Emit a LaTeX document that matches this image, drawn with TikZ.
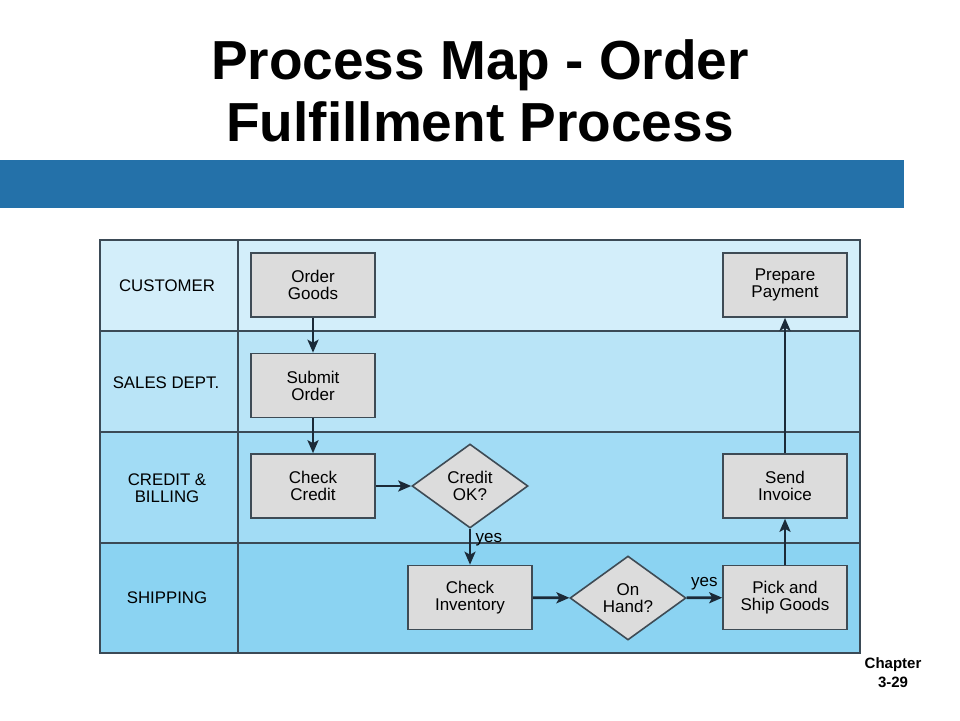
\documentclass[tikz,border=0pt]{standalone}
\usepackage{fontspec}
\setmainfont{Liberation Sans}
\usetikzlibrary{shapes.geometric,arrows.meta}
\definecolor{barblue}{HTML}{2471A9}
\definecolor{laneA}{HTML}{D3EEFA}
\definecolor{laneB}{HTML}{B9E4F7}
\definecolor{laneC}{HTML}{A2DCF5}
\definecolor{laneD}{HTML}{8BD3F2}
\definecolor{boxfill}{HTML}{DCDCDC}
\definecolor{boxline}{HTML}{3E4B55}
\definecolor{arrowc}{HTML}{1B2A38}
\definecolor{gridline}{HTML}{3B4A56}
\tikzset{
  procbox/.style={draw=boxline, line width=1.6pt, fill=boxfill, minimum width=124pt, minimum height=64pt, inner sep=0pt, align=center, font=\fontsize{17}{17}\selectfont},
  decbox/.style={diamond, draw=boxline, line width=1.6pt, fill=boxfill, minimum width=116pt, minimum height=84pt, inner sep=0pt, align=center, font=\fontsize{17}{17}\selectfont},
  lanelabel/.style={align=center, font=\fontsize{16.8}{17}\selectfont},
  flow/.style={draw=arrowc, line width=2.8pt, -{Stealth[length=13pt,width=11pt,inset=3pt]}},
  titletext/.style={font=\fontsize{55}{60}\selectfont\bfseries, anchor=base},
  smalltext/.style={font=\fontsize{17}{17}\selectfont}
}
\begin{document}
\begin{tikzpicture}[x=1pt,y=-1pt]
\useasboundingbox (0,0) rectangle (960,720);
\fill[white] (0,0) rectangle (960,720);
% title
\node[titletext] (t1) at (480,79) {Process Map - Order};
\node[titletext] (t2) at (480,141) {Fulfillment Process};
\fill[barblue] (0,160) rectangle (904,208);
% lanes
\fill[laneA] (100,240) rectangle (860,331);
\fill[laneB] (100,331) rectangle (860,432);
\fill[laneC] (100,432) rectangle (860,543);
\fill[laneD] (100,543) rectangle (860,653);
\draw[gridline, line width=1.5pt] (100,240) rectangle (860,653);
\draw[gridline, line width=1.5pt] (238,240) -- (238,653);
\draw[gridline, line width=1.5pt] (100,331) -- (860,331);
\draw[gridline, line width=1.5pt] (100,432) -- (860,432);
\draw[gridline, line width=1.5pt] (100,543) -- (860,543);
\node[lanelabel] (l1) at (167,286) {CUSTOMER};
\node[lanelabel] (l2) at (166,383) {SALES DEPT.};
\node[lanelabel] (l3) at (167,488) {CREDIT \&\\BILLING};
\node[lanelabel] (l4) at (167,598) {SHIPPING};
% nodes
\node[procbox] (og) at (313,285) {Order\\Goods};
\node[procbox] (so) at (313,385.5) {Submit\\Order};
\node[procbox] (cc) at (313,486) {Check\\Credit};
\node[decbox] (cok) at (470,486) {Credit\\OK?};
\node[procbox] (ci) at (470,597.5) {Check\\Inventory};
\node[decbox] (oh) at (628,598) {On\\Hand?};
\node[procbox] (ps) at (785,597.5) {Pick and\\Ship Goods};
\node[procbox] (si) at (785,486) {Send\\Invoice};
\node[procbox] (pp) at (785,285) {Prepare\\Payment};
% connectors
\draw[flow] (og) -- (so);
\draw[flow] (so) -- (cc);
\draw[flow] (cc) -- (cok);
\draw[flow] (cok) -- (ci) node[pos=0.3, right=1pt, smalltext] (y1) {yes};
\draw[flow] (ci) -- (oh);
\draw[flow] (oh) -- (ps) node[midway, above=3pt, smalltext] (y2) {yes};
\draw[flow] (ps) -- (si);
\draw[flow] (si) -- (pp);
% footer
\node[font=\fontsize{15}{19}\selectfont\bfseries, align=center] (ch) at (893,673) {Chapter\\3-29};
\end{tikzpicture}
\end{document}
